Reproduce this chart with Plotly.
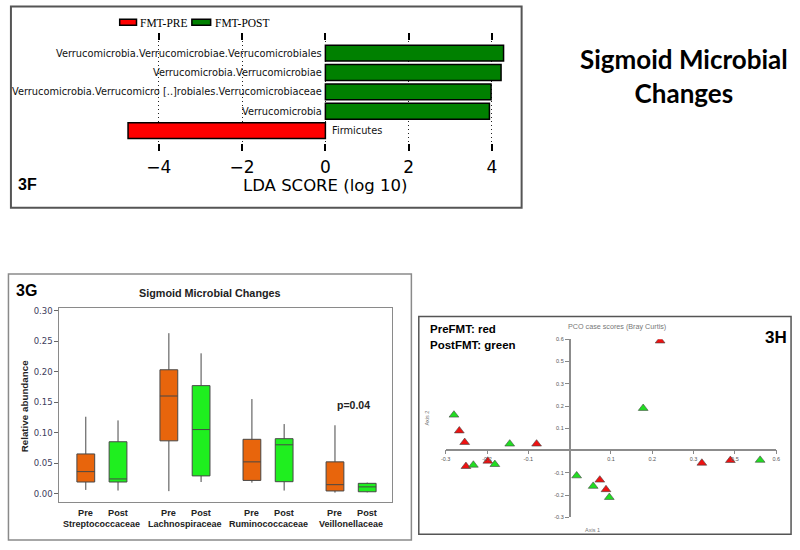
import plotly.graph_objects as go

W, H = 800, 550


def px(x):
    return x / W


def py(y):
    return 1 - y / H


# ---- 3F: LEfSe LDA scores ----
lda_taxa = [
    "Verrucomicrobia.Verrucomicrobiae.Verrucomicrobiales",
    "Verrucomicrobia.Verrucomicrobiae",
    "Verrucomicrobia.Verrucomicro [..]robiales.Verrucomicrobiaceae",
    "Verrucomicrobia",
    "Firmicutes",
]
lda_scores = [4.28, 4.22, 3.98, 3.94, -4.74]
lda_class = ["FMT-POST", "FMT-POST", "FMT-POST", "FMT-POST", "FMT-PRE"]
lda_ticks = [-4, -2, 0, 2, 4]
class_colors = {"FMT-PRE": "#FF0000", "FMT-POST": "#008000"}

# ---- 3G: relative abundance box plots ----
families = ["Streptococcaceae", "Lachnospiraceae", "Ruminococcaceae", "Veillonellaceae"]
pre_low = [0.006, 0.004, 0.018, 0.0016]
pre_q1 = [0.019, 0.0865, 0.0216, 0.0043]
pre_med = [0.036, 0.160, 0.052, 0.0146]
pre_q3 = [0.065, 0.203, 0.089, 0.052]
pre_high = [0.126, 0.263, 0.155, 0.112]
post_low = [0.005, 0.019, 0.005, 0.002]
post_q1 = [0.019, 0.029, 0.0195, 0.003]
post_med = [0.024, 0.105, 0.080, 0.011]
post_q3 = [0.085, 0.177, 0.090, 0.0168]
post_high = [0.120, 0.230, 0.114, 0.018]
abund_ticks = [0.00, 0.05, 0.10, 0.15, 0.20, 0.25, 0.30]

# ---- 3H: PCO case scores ----
pco_pre_x = [-0.267, -0.254, -0.080, -0.251, -0.198, 0.219, 0.073, 0.088, 0.320, 0.389]
pco_pre_y = [0.089, 0.037, 0.030, -0.071, -0.047, 0.493, -0.132, -0.175, -0.056, -0.044]
pco_post_x = [-0.280, -0.145, -0.233, -0.181, 0.178, 0.017, 0.057, 0.096, 0.461]
pco_post_y = [0.160, 0.030, -0.065, -0.062, 0.190, -0.113, -0.160, -0.210, -0.043]
pco_tickvals = [-0.3, -0.2, -0.1, 0.1, 0.2, 0.3, 0.4, 0.5]
pco_ticktext = ["-0.3", "-0.2", "-0.1", "0.1", "0.2", "0.3", "0.5", "0.6"]

fig = go.Figure()

# 3F bars
for cls, color in class_colors.items():
    xs = [s for s, c in zip(lda_scores, lda_class) if c == cls]
    ys = [t for t, c in zip(lda_taxa, lda_class) if c == cls]
    fig.add_trace(go.Bar(
        x=xs, y=ys, orientation="h", name=cls, width=0.82, showlegend=False,
        marker=dict(color=color, line=dict(color="black", width=1.5)),
        xaxis="x", yaxis="y",
    ))

# 3G boxes
for name, low, q1, med, q3, high, fill in [
    ("Pre", pre_low, pre_q1, pre_med, pre_q3, pre_high, "#E8650C"),
    ("Post", post_low, post_q1, post_med, post_q3, post_high, "#1FEF1F"),
]:
    fig.add_trace(go.Box(
        x=families, q1=q1, median=med, q3=q3, lowerfence=low, upperfence=high,
        name=name, fillcolor=fill, line=dict(color="#474747", width=1),
        whiskerwidth=0, showlegend=False, offsetgroup=name,
        xaxis="x2", yaxis="y2",
    ))

# 3H scatter
for xs, ys, color in [(pco_pre_x, pco_pre_y, "#EE1111"), (pco_post_x, pco_post_y, "#22DD22")]:
    fig.add_trace(go.Scatter(
        x=xs, y=ys, mode="markers", showlegend=False,
        marker=dict(symbol="triangle-up", size=8.5, color=color,
                    line=dict(color="#444", width=0.6)),
        xaxis="x3", yaxis="y3",
    ))


def label(x, y, text, size, family="Liberation Sans", color="black", xref="paper",
          yref="paper", xanchor="center", **kw):
    return dict(x=x, y=y, xref=xref, yref=yref, text=text, showarrow=False,
                xanchor=xanchor, yanchor="middle",
                font=dict(family=family, size=size, color=color), **kw)


ann = []
shapes = []

# 3F legend (matplotlib-style patches)
for (cls, color), x0, x1 in zip(class_colors.items(), [116, 189], [133, 208]):
    shapes.append(dict(type="rect", xref="paper", yref="paper", x0=px(x0), x1=px(x1),
                       y0=py(22.5), y1=py(16.5), fillcolor=color,
                       line=dict(color="black", width=1.5)))
    ann.append(label(px(x1 + 2), py(20.5), cls, 11.5, "Liberation Serif", xanchor="left"))

# 3F category labels
for taxon, score in zip(lda_taxa, lda_scores):
    ann.append(label(0, taxon, taxon, 9.8, "DejaVu Sans", "#111", "x", "y",
                     "right" if score > 0 else "left", xshift=-1 if score > 0 else 5))
ann.append(label(0, py(185), "LDA SCORE (log 10)", 16.5, "DejaVu Sans", xref="x"))
ann.append(label(px(23), py(183), "<b>3F</b>", 16))

# right title
ann.append(label(px(687), py(74), "<b>Sigmoid Microbial<br>Changes</b>", 26, "Lato"))

# 3G labels
for fam in families:
    for lab, shift in [("Pre", -16.3), ("Post", 16.3)]:
        ann.append(label(fam, py(516), "<b>%s</b>" % lab, 9.2, color="#222", xref="x2",
                         xshift=shift))
    ann.append(label(fam, py(527), "<b>%s</b>" % fam, 9, color="#222", xref="x2"))
ann.append(label(px(207), py(293), "<b>Sigmoid Microbial Changes</b>", 10.8, color="#222"))
ann.append(label(px(20), py(407), "<b>Relative abundance</b>", 9.8, color="#222", textangle=-90))
ann.append(label(px(22), py(291), "<b>3G</b>", 16))
ann.append(label(families[3], 0.145, "<b>p=0.04</b>", 10.5, color="#222", xref="x2",
                 yref="y2", xshift=2))

# 3H labels
ann.append(label(px(428), py(330), "<b>PreFMT: red</b>", 11.5, xanchor="left"))
ann.append(label(px(428), py(346), "<b>PostFMT: green</b>", 11.5, xanchor="left"))
ann.append(label(px(780), py(338), "<b>3H</b>", 17))
ann.append(label(px(619), py(327), "PCO case scores (Bray Curtis)", 7.2, color="#777"))
ann.append(label(px(427), py(420), "Axis 2", 5.5, color="#777", textangle=-90))
ann.append(label(px(594), py(533), "Axis 1", 5.5, color="#777"))

# panel frames
shapes += [
    dict(type="rect", xref="paper", yref="paper", x0=px(6), x1=px(522.5), y0=py(207), y1=py(3.5),
         line=dict(color="#555", width=2)),
    dict(type="rect", xref="paper", yref="paper", x0=px(3.5), x1=px(411), y0=py(543), y1=py(274),
         line=dict(color="#8a8a8a", width=1.5)),
    dict(type="rect", xref="paper", yref="paper", x0=px(418.5), x1=px(795), y0=py(537), y1=py(317),
         line=dict(color="#555", width=1.5)),
]

fig.update_layout(
    width=W, height=H, margin=dict(l=0, r=0, t=0, b=0),
    paper_bgcolor="white", plot_bgcolor="white",
    barmode="overlay", boxmode="group", boxgap=0.224, boxgroupgap=0.448,
    annotations=ann, shapes=shapes, showlegend=False,
    xaxis=dict(domain=[px(113.5), px(513.5)], range=[-5, 4.5], anchor="y",
               tickvals=lda_ticks, ticks="inside", ticklen=7, tickwidth=1.5, tickcolor="black",
               mirror="ticks", showline=True, linecolor="rgba(0,0,0,0)",
               showgrid=True, gridcolor="#222", griddash="1px,3px", gridwidth=1.2,
               zeroline=False, tickfont=dict(family="DejaVu Sans", size=17, color="black")),
    yaxis=dict(domain=[py(150), py(30)], type="category", categoryorder="array",
               categoryarray=lda_taxa, range=[5.07, -1.056], anchor="x",
               showticklabels=False, showgrid=False, zeroline=False, ticks=""),
    xaxis2=dict(domain=[px(55), px(391.7)], type="category", range=[-0.512, 3.496], anchor="y2",
                showticklabels=False, showline=True, mirror=True, linecolor="#8a8a8a",
                linewidth=1.2, ticks="", showgrid=False, zeroline=False),
    yaxis2=dict(domain=[py(505), py(308)], range=[-0.0146, 0.3049], anchor="x2",
                tickvals=abund_ticks, tickformat=".2f", ticks="outside", ticklen=4,
                tickcolor="#666", showline=True, mirror=True, linecolor="#8a8a8a", linewidth=1.2,
                showgrid=False, zeroline=False,
                tickfont=dict(family="DejaVu Sans", size=8.5, color="#3d3d5c")),
    xaxis3=dict(domain=[px(445.7), px(780)], range=[-0.3, 0.5], anchor="free",
                position=py(451.5), tickvals=pco_tickvals, ticktext=pco_ticktext,
                ticks="outside", ticklen=4, tickcolor="#888", showline=True,
                linecolor="#8c8c8c", linewidth=1.5, showgrid=False, zeroline=False,
                tickfont=dict(family="Liberation Sans", size=5.5, color="#555")),
    yaxis3=dict(domain=[py(520), py(340)], range=[-0.3, 0.5], anchor="free",
                position=px(571), tickvals=pco_tickvals, ticktext=pco_ticktext,
                ticks="outside", ticklen=4, tickcolor="#888", showline=True,
                linecolor="#8c8c8c", linewidth=1.5, showgrid=False, zeroline=False,
                tickfont=dict(family="Liberation Sans", size=5.5, color="#555")),
)

# drop the default page margin so the figure sits at the window's top-left corner
fig.write_html("out.html", config={"displayModeBar": False},
               post_script="document.body.style.margin='0';")
